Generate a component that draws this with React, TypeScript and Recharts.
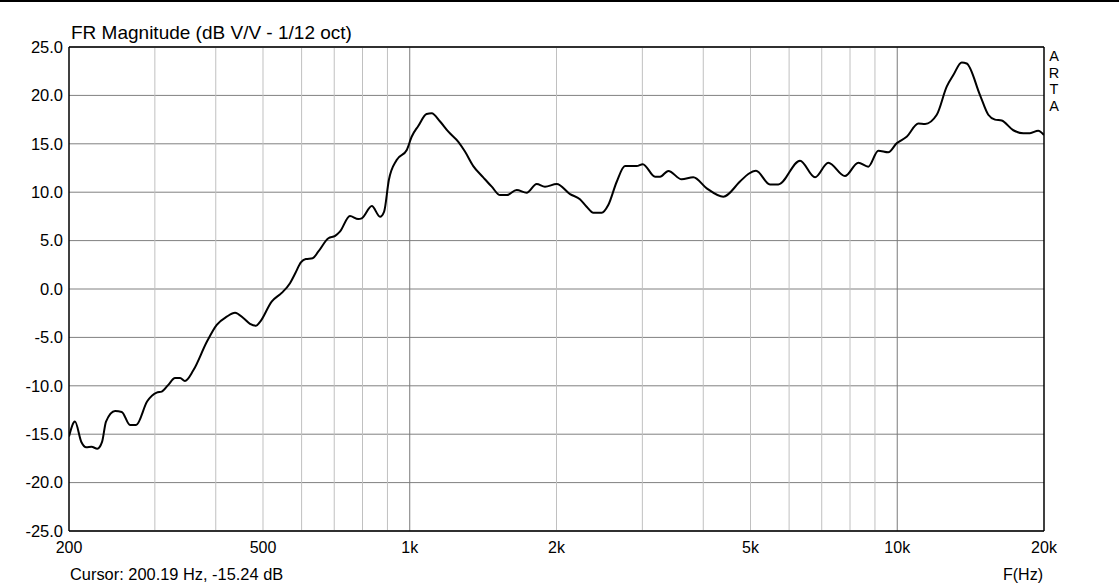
import { LineChart, Line, XAxis, YAxis, CartesianGrid, ReferenceLine } from "recharts";

// frequency (Hz) and magnitude (dB)
const freqs = [
  200, 205.7, 212, 217, 222.5, 228.6, 233.8, 238.2, 248.6, 256.6, 266.8, 274.6,
  289.4, 302.6, 309.9, 319.7, 330, 338, 345.8, 359.8, 383.5, 401.9, 421.3, 438.1,
  455.6, 470.2, 483.7, 493, 520.9, 546.2, 568, 582, 598, 612, 632, 649, 681, 703,
  719, 754, 784, 797, 836, 869, 886, 906, 940, 986, 1009, 1041, 1083, 1109, 1154,
  1200, 1258, 1298, 1350, 1415, 1473, 1532, 1581, 1657, 1737, 1821, 1894, 2002,
  2132, 2234, 2306, 2380, 2476, 2554, 2658, 2764, 2920, 3006, 3186, 3262, 3392,
  3612, 3816, 4066, 4398, 4758, 4948, 5132, 5482, 5702, 6318, 6782, 7220, 7812,
  8320, 8722, 9144, 9584, 9972, 10454, 11048, 11402, 12052, 12632, 13032, 13560,
  13882, 14782, 15372, 15868, 16378, 17300, 18140, 18720, 19460, 20000,
];

const magnitude = [
  -15.24, -13.7, -15.8, -16.35, -16.3, -16.5, -15.8, -13.7, -12.6, -12.7, -14.05, -14.05,
  -11.6, -10.7, -10.6, -9.9, -9.2, -9.2, -9.5, -8.4, -5.45, -3.7, -2.86, -2.45,
  -3.0, -3.6, -3.8, -3.4, -1.3, -0.4, 0.6, 1.6, 2.75, 3.1, 3.17, 3.85, 5.24, 5.48,
  5.92, 7.54, 7.23, 7.3, 8.57, 7.47, 8.0, 11.26, 13.33, 14.36, 15.73, 16.84, 18.08, 18.15, 17.3,
  16.25, 15.2, 14.2, 12.7, 11.54, 10.57, 9.7, 9.7, 10.23, 9.95, 10.85, 10.57, 10.85,
  9.8, 9.27, 8.5, 7.88, 7.88, 8.68, 11.08, 12.7, 12.7, 12.9, 11.6, 11.6, 12.2,
  11.33, 11.54, 10.4, 9.53, 11.1, 11.88, 12.22, 10.8, 10.8, 13.26, 11.54, 13.05, 11.67,
  13.05, 12.64, 14.29, 14.12, 15.05, 15.73, 17.1, 17.05, 18.0, 20.9, 22.1, 23.4,
  23.3, 20.04, 18.0, 17.5, 17.4, 16.4, 16.1, 16.1, 16.35, 15.9,
];

const xTicks = [200, 500, 1000, 2000, 5000, 10000, 20000];
const yTicks = [-25, -20, -15, -10, -5, 0, 5, 10, 15, 20, 25];
const minorLines = [300, 400, 500, 600, 700, 800, 900, 2000, 3000, 4000, 5000, 6000, 7000, 8000, 9000];
const majorLines = [1000, 10000];
const brand = ["A", "R", "T", "A"];

const data = freqs.map((f, i) => ({ f, db: magnitude[i] }));

const font = "'Liberation Sans', Arial, sans-serif";

export default function App() {
  return (
    <div
      style={{
        position: "absolute",
        left: 0,
        top: 0,
        width: 1119,
        height: 588,
        background: "#fff",
        fontFamily: font,
        color: "#000",
      }}
    >
      <div style={{ position: "absolute", left: 0, top: 0, width: 1119, height: 2, background: "#000" }} />
      <div style={{ position: "absolute", left: 71, top: 22, fontSize: 19, lineHeight: "22px", whiteSpace: "nowrap" }}>
        FR Magnitude (dB V/V - 1/12 oct)
      </div>
      {brand.map((ch, i) => (
        <div
          key={i}
          style={{
            position: "absolute",
            left: 1046,
            top: 48 + i * 16.7,
            width: 16,
            height: 16.7,
            fontSize: 14.5,
            lineHeight: "16.7px",
            textAlign: "center",
          }}
        >
          {ch}
        </div>
      ))}
      <div style={{ position: "absolute", left: 70, top: 564, fontSize: 16.4, lineHeight: "20px", whiteSpace: "nowrap" }}>
        Cursor: 200.19 Hz, -15.24 dB
      </div>
      <div style={{ position: "absolute", left: 1003, top: 565, fontSize: 16, lineHeight: "20px" }}>
        F(Hz)
      </div>

      <LineChart
        width={1119}
        height={588}
        data={data}
        margin={{ top: 47, right: 75, bottom: 0, left: 0 }}
        style={{ position: "absolute", left: 0, top: 0 }}
      >
        <CartesianGrid vertical={false} stroke="#808080" strokeWidth={1} />
        {minorLines.map((f) => (
          <ReferenceLine key={f} x={f} stroke="#c0c0c0" strokeWidth={1} />
        ))}
        {majorLines.map((f) => (
          <ReferenceLine key={f} x={f} stroke="#7a7a7a" strokeWidth={1} />
        ))}
        <ReferenceLine y={25} stroke="#000" strokeWidth={1.5} />
        <ReferenceLine x={20000} stroke="#000" strokeWidth={1.5} />
        <XAxis
          dataKey="f"
          type="number"
          scale="log"
          domain={[200, 20000]}
          ticks={xTicks}
          allowDataOverflow
          height={57}
          tickSize={0}
          tickMargin={11}
          tickLine={false}
          axisLine={{ stroke: "#000", strokeWidth: 1.5 }}
          tick={{ fill: "#000", fontSize: 16, fontFamily: font }}
          tickFormatter={(v: number) => (v >= 1000 ? `${v / 1000}k` : `${v}`)}
        />
        <YAxis
          type="number"
          domain={[-25, 25]}
          ticks={yTicks}
          width={69}
          tickSize={0}
          tickMargin={6}
          tickLine={false}
          axisLine={{ stroke: "#000", strokeWidth: 1.5 }}
          tick={{ fill: "#000", fontSize: 16.5, fontFamily: font }}
          tickFormatter={(v: number) => v.toFixed(1)}
        />
        <Line
          type="monotone"
          dataKey="db"
          stroke="#000"
          strokeWidth={2}
          dot={false}
          isAnimationActive={false}
        />
      </LineChart>
    </div>
  );
}
